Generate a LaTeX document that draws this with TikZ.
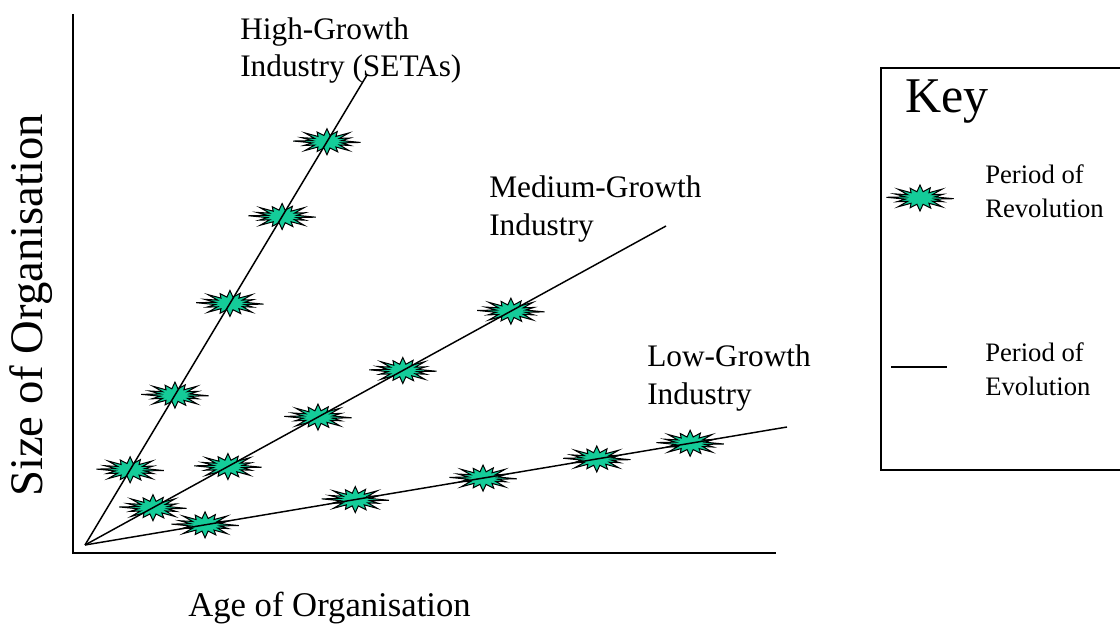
\documentclass[tikz,border=0pt]{standalone}
\usepackage{fontspec}
\setmainfont{Liberation Serif}
\usetikzlibrary{calc}
\definecolor{burstgreen}{RGB}{20,204,153}
\tikzset{
  burst/.pic={
    \filldraw[fill=burstgreen,draw=black,line width=0.75pt,line join=miter,xscale=2.5]
      (3:13.5) -- (11:6) -- (22:10) -- (33:6) -- (45:12.5) -- (56:6.4) -- (67:11) -- (79:6.4) --
      (90:13) -- (101:6.4) -- (112:10.5) -- (124:6.4) -- (135:12.5) -- (146:6) -- (158:10) -- (169:6) --
      (183:13.5) -- (191:6) -- (202:11) -- (214:6) -- (225:12.5) -- (236:6.4) -- (248:10.5) -- (259:6.4) --
      (270:13) -- (281:6.4) -- (292:11) -- (304:6.4) -- (315:12.5) -- (326:6) -- (338:10) -- (349:6) -- cycle;
  },
  axisline/.style={line width=1.6pt},
  growth/.style={line width=1.1pt},
  keybox/.style={line width=1.5pt},
  lbl/.style={font=\fontsize{23.5}{28}\selectfont, align=left, inner sep=0pt},
  keylbl/.style={font=\fontsize{20}{25.5}\selectfont, align=left, inner sep=0pt},
}
\begin{document}
\begin{tikzpicture}[x=0.75pt,y=-0.75pt]
\useasboundingbox (0,0) rectangle (1120,624);
% axes
\coordinate (ytop) at (73,14);
\coordinate (corner) at (73,553);
\coordinate (xend) at (776,553);
\draw[axisline] (ytop) -- (corner) -- (xend);
% lines
\coordinate (o) at (85,545);
\coordinate (hiE) at (367,75);
\coordinate (medE) at (666,226);
\coordinate (lowE) at (787,427);
% bursts
\foreach \t in {0.16,0.319,0.514,0.699,0.858} \pic at ($(o)!\t!(hiE)$) {burst};
\foreach \t in {0.117,0.246,0.401,0.547,0.733} \pic at ($(o)!\t!(medE)$) {burst};
\foreach \t in {0.171,0.385,0.567,0.729,0.862} \pic at ($(o)!\t!(lowE)$) {burst};
\draw[growth] (o) -- (hiE);
\draw[growth] (o) -- (medE);
\draw[growth] (o) -- (lowE);
% labels (base anchor = last line's baseline)
\node[lbl, anchor=base west] (hiL) at (240,77) {High-Growth\\Industry (SETAs)};
\node[lbl, anchor=base west] (medL) at (489,235) {Medium-Growth\\Industry};
\node[lbl, anchor=base west] (lowL) at (647,404) {Low-Growth\\Industry};
\node[font=\fontsize{26}{31}\selectfont, inner sep=0pt, anchor=base west] (xL) at (188,616) {Age of Organisation};
\node[font=\fontsize{35}{41}\selectfont, inner sep=0pt, rotate=90, anchor=base west] (yL) at (42,497) {Size of Organisation};
% key
\draw[keybox] (881,68) rectangle (1126,470);
\node[font=\fontsize{37.5}{44}\selectfont, inner sep=0pt, anchor=base west] (keyT) at (905,113) {Key};
\pic at (920,198) {burst};
\node[keylbl, anchor=base west] (revL) at (985,217) {Period of\\Revolution};
\coordinate (kl1) at (891,367);
\coordinate (kl2) at (947,367);
\draw[growth] (kl1) -- (kl2);
\node[keylbl, anchor=base west] (evoL) at (985,395) {Period of\\Evolution};
\end{tikzpicture}
\end{document}
